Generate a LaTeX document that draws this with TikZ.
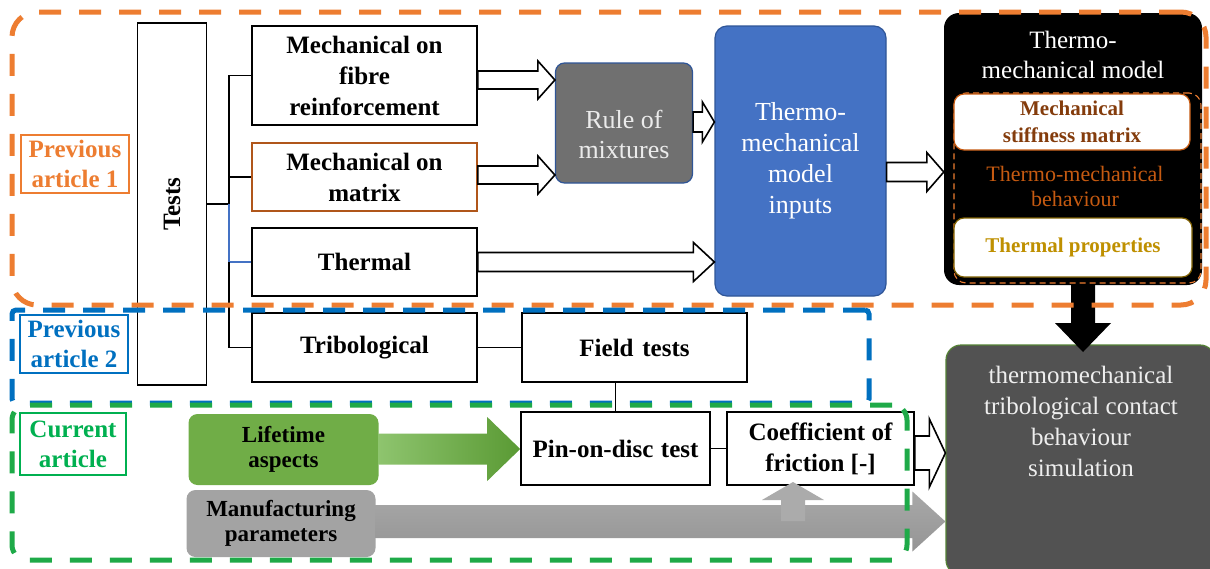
\documentclass[tikz,border=0pt]{standalone}
\usepackage{fontspec}
\setmainfont{Liberation Serif}
\usetikzlibrary{calc}
\definecolor{orng}{HTML}{ED7D31}
\definecolor{bluedash}{HTML}{0070C0}
\definecolor{grn}{HTML}{00B050}
\definecolor{grndash}{HTML}{1EAA48}
\definecolor{inblue}{HTML}{4472C4}
\definecolor{inbord}{HTML}{2F5597}
\definecolor{rulegray}{HTML}{707070}
\definecolor{matbrown}{HTML}{B0561A}
\definecolor{stiff}{HTML}{843C0C}
\definecolor{behav}{HTML}{C55A11}
\definecolor{gold}{HTML}{BF9000}
\definecolor{goldb}{HTML}{7F6000}
\definecolor{simgray}{HTML}{525252}
\definecolor{simbord}{HTML}{548235}
\definecolor{simtxt}{HTML}{EEEEEE}
\definecolor{life}{HTML}{70AD47}
\definecolor{manu}{HTML}{A3A3A3}
\definecolor{garrL}{HTML}{8EC46E}
\definecolor{garrR}{HTML}{5A9A34}
\definecolor{grayT}{HTML}{A8A8A8}
\definecolor{grayB}{HTML}{959595}
\definecolor{upgray}{HTML}{ABABAB}
\newcommand\fs[2]{\fontsize{#1}{#2}\selectfont}
% horizontal block arrow: style, start, tip, shaft half, head half, head length
\newcommand\hblock[6]{\path[#1] let \p1=(#2), \p2=(#3) in
  ({\x1},{\y1+#4}) -- ({\x2-#6},{\y1+#4}) -- ({\x2-#6},{\y1+#5}) -- (\x2,\y1) --
  ({\x2-#6},{\y1-#5}) -- ({\x2-#6},{\y1-#4}) -- ({\x1},{\y1-#4}) -- cycle;}
% vertical block arrow: style, start, tip, shaft half, head half, signed head length (canvas)
\newcommand\vblock[6]{\path[#1] let \p1=(#2), \p2=(#3) in
  ({\x1-#4},{\y1}) -- ({\x1-#4},{\y2+(#6)}) -- ({\x1-#5},{\y2+(#6)}) -- (\x1,\y2) --
  ({\x1+#5},{\y2+(#6)}) -- ({\x1+#4},{\y2+(#6)}) -- ({\x1+#4},{\y1}) -- cycle;}
\tikzset{
  box/.style={draw=black, line width=1.6, fill=white, inner sep=0, align=center,
    font=\fs{25}{31}\bfseries},
  lbl/.style={line width=1.5, inner sep=0, align=center, font=\fs{25}{30}\bfseries},
  dbox/.style={line width=5, dash pattern=on 22 off 18, inner sep=0},
  wa/.style={draw=black, line width=1.6, fill=white, line join=miter},
  conn/.style={line width=1.6},
}
\begin{document}
\begin{tikzpicture}[x=1pt, y=-1pt]
\useasboundingbox (0,0) rectangle (1210,568);
\clip (0,0) rectangle (1210,568);
\fill[white] (0,0) rectangle (1210,568);

% simulation box
\node[fill=simgray, draw=simbord, line width=1.2, rounded corners=15, inner sep=0,
  minimum width=269, minimum height=230] (sim) at (1080.5,460) {};
\node[text=simtxt, align=center, font=\fs{25}{31}] (simtext) at (1081,421)
  {thermomechanical\\tribological contact\\behaviour\\simulation};

% black model box
\node[fill=black, rounded corners=15, inner sep=0, minimum width=258, minimum height=272]
  (blk) at (1073,149) {};
\node[text=white, align=center, font=\fs{25}{30}] (blktitle) at (1073,55)
  {Thermo-\\mechanical model};
\node[draw=orng, line width=1.1, dash pattern=on 6 off 4, rounded corners=12, inner sep=0,
  minimum width=247, minimum height=190] (inner) at (1077.5,188) {};
\node[fill=white, draw=behav, line width=1.2, rounded corners=10, inner sep=0,
  minimum width=236, minimum height=56, align=center, text=stiff,
  font=\fs{21}{27}\bfseries] (stiff) at (1072,122) {Mechanical\\stiffness matrix};
\node[text=behav, align=center, font=\fs{22}{25}] (behav) at (1075,186.5)
  {Thermo-mechanical\\behaviour};
\node[fill=white, draw=goldb, line width=1.2, rounded corners=10, inner sep=0,
  minimum width=238, minimum height=59, text=gold, font=\fs{21}{27}\bfseries]
  (thprop) at (1073,247.5) {Thermal properties};

% inputs and rule of mixtures
\node[fill=inblue, draw=inbord, line width=1.2, rounded corners=12, inner sep=0,
  minimum width=171, minimum height=270, text=white, align=center, font=\fs{26}{31}]
  (inputs) at (800.5,161) {Thermo-\\mechanical\\model\\inputs};
\node[fill=rulegray, draw=inbord, line width=1.2, rounded corners=9, inner sep=0,
  minimum width=137, minimum height=120] (rule) at (624,123) {};
\node[text=white!92!black, align=center, font=\fs{26}{30}] (ruletxt) at (624,134)
  {Rule of\\mixtures};

% test boxes
\node[box, minimum width=69, minimum height=362] (tests) at (172,204) {};
\node[rotate=90, font=\fs{25}{31}\bfseries] (teststxt) at (tests.center) {Tests};
\node[box, minimum width=225, minimum height=99] (mf) at (364.5,75.5)
  {Mechanical on\\fibre\\reinforcement};
\node[box, draw=matbrown, minimum width=225, minimum height=68] (mm) at (364.5,177)
  {Mechanical on\\matrix};
\node[box, minimum width=225, minimum height=68] (th) at (364.5,262) {Thermal};
\node[box, minimum width=225, minimum height=69] (trib) at (364.5,347.5) {Tribological};
\node[box, minimum width=225, minimum height=69] (field) at (634.5,347.5)
  {Field\hspace{0.35em}tests};
\node[box, minimum width=189, minimum height=73] (pin) at (615.5,448.5)
  {Pin-on-disc\hspace{0.3em}test};
\node[box, minimum width=187, minimum height=73] (coef) at (820.5,448.5)
  {Coefficient\hspace{0.25em}of\\friction [-]};

% current article inputs
\node[fill=life, rounded corners=9, inner sep=0, minimum width=190, minimum height=71,
  align=center, font=\fs{23}{25}\bfseries] (life) at (283.5,449.5) {Lifetime\\aspects};
\node[fill=manu, rounded corners=9, inner sep=0, minimum width=189, minimum height=67,
  align=center, font=\fs{23}{25}\bfseries] (manu) at (281,523.5) {Manufacturing\\parameters};

% bus connectors
\coordinate (bus) at (229,0);
\draw[conn] (tests.east) -- (tests.east -| bus);
\draw[conn] (tests.east -| bus) -- (mf.west -| bus) -- (mf.west);
\draw[conn] (mm.west -| bus) -- (mm.west);
\draw[conn, draw=inblue] (tests.east -| bus) -- (th.west -| bus) -- (th.west);
\draw[conn] (th.west -| bus) -- (trib.west -| bus) -- (trib.west);
\draw[conn] (trib.east) -- (field.west);
\draw[conn] (pin.north) -- (pin.north |- field.south);
\draw[conn] (pin.east) -- (coef.west);

% block arrows
\coordinate (y80) at (0,80);
\coordinate (y175) at (0,175);
\coordinate (y262) at (0,262);
\coordinate (y122) at (0,122);
\coordinate (y172) at (0,172);
\coordinate (y453) at (0,453);
\coordinate (y449) at (0,449);
\coordinate (y521) at (0,521.5);
\hblock{wa}{mf.east |- y80}{rule.west |- y80}{9}{19}{17}
\hblock{wa}{mm.east |- y175}{rule.west |- y175}{9}{19}{17}
\hblock{wa}{th.east |- y262}{inputs.west |- y262}{9.5}{19.5}{21}
\hblock{wa}{rule.east |- y122}{inputs.west |- y122}{10}{20}{12}
\hblock{wa}{inputs.east |- y172}{blk.west |- y172}{9.5}{19.5}{17}
\hblock{wa}{coef.east |- y453}{sim.west |- y453}{17}{34}{16}
\hblock{shade, left color=garrL, right color=garrR}{life.east |- y449}{pin.west |- y449}{15.5}{32}{33}
\hblock{shade, top color=grayT, bottom color=grayB}{manu.east |- y521}{sim.west |- y521}{16.5}{30}{33}
\coordinate (ustart) at (793,521);
\coordinate (utip) at (793,482);
\vblock{fill=upgray}{ustart}{utip}{12}{31}{-18}
\coordinate (btip) at (1083,352);
\vblock{fill=black}{blk.south -| btip}{btip}{12}{28}{29}

% article labels
\node[lbl, draw=orng, text=orng, minimum width=108, minimum height=58] (pa1) at (75,164)
  {Previous\\article 1};
\node[lbl, draw=bluedash, text=bluedash, minimum width=108, minimum height=58] (pa2)
  at (74,344) {Previous\\article 2};
\node[lbl, draw=grn, text=grn, minimum width=106, minimum height=62] (ca) at (73,444)
  {Current\\article};

% dashed containers
\node[dbox, draw=orng, rounded corners=25, minimum width=1194, minimum height=293]
  (art1) at (609,158.5) {};
\node[dbox, draw=bluedash, rounded corners=4, minimum width=857, minimum height=93]
  (art2) at (440.5,356.5) {};
\node[dbox, draw=grndash, rounded corners=15, minimum width=895, minimum height=155]
  (art3) at (459.5,482.5) {};
\end{tikzpicture}
\end{document}
